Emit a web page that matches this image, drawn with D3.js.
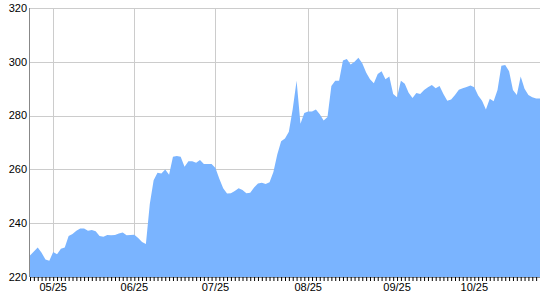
<!DOCTYPE html>
<html>
<head>
<meta charset="utf-8">
<script src="https://cdn.jsdelivr.net/npm/d3@7"></script>
<style>
  body { margin: 0; background: #fff; }
  svg { display: block; font-family: "Liberation Sans", Arial, sans-serif; }
</style>
</head>
<body>
<div id="chart"></div>
<script>
// --------------- Data ---------------
// one value per trading day
const values = [
  228, 229.5, 231, 229, 226.5, 226, 229.3, 228.5, 230.5, 231,
  235.2, 236, 237.2, 238, 238, 237.2, 237.5, 237, 235.2, 235,
  235.6, 235.5, 235.6, 236.2, 236.5, 235.5, 235.6, 235.7, 234.5, 233,
  232.3, 247, 256, 258.8, 258.5, 260, 258, 264.7, 265, 264.7,
  261, 263, 263, 262.5, 263.5, 262, 262, 262, 260.5, 256.5,
  253, 251, 251.1, 252, 253, 252.3, 251.1, 251.3, 253.3, 254.8,
  255, 254.6, 255.2, 259, 265.5, 270.5, 271.5, 274, 282.5, 293,
  277, 281, 281.5, 281.5, 282.3, 280.5, 278.2, 279.5, 291, 293,
  293, 300.5, 301, 299, 300, 301.5, 299.5, 296, 293.5, 292,
  295.5, 296.5, 293.5, 294.5, 288, 286.8, 293, 291.8, 288.5, 286.5,
  288.4, 288, 289.5, 290.5, 291.4, 290.2, 291, 288, 285.5, 286,
  287.7, 289.6, 290.2, 290.6, 291.2, 290.5, 287.5, 285.5, 282.3, 286.3,
  285.3, 289.5, 298.5, 298.8, 296.5, 289.5, 287.7, 294.5, 290, 287.7,
  286.8, 286.4, 286.4
];
// first trading day of each month (index into values)
const monthIndex = [6, 27, 48, 72, 95, 115];
const monthLabels = ["05/25", "06/25", "07/25", "08/25", "09/25", "10/25"];
const yTicks = [220, 240, 260, 280, 300, 320];

const WIDTH = 540;
const HEIGHT = 300;
const margin = { top: 8, right: 0, bottom: 23, left: 30 };
const FILL = "#7ab4ff";
const GRID = "#cccccc";

const svg = d3.select("#chart")
  .append("svg")
  .attr("width", WIDTH)
  .attr("height", HEIGHT);

const x = d3.scaleLinear()
  .domain([0, values.length - 1])
  .range([margin.left, WIDTH - margin.right]);

const y = d3.scaleLinear()
  .domain([220, 320])
  .range([HEIGHT - margin.bottom, margin.top]);

// --------------- Grid ---------------
svg.append("g")
  .selectAll("line")
  .data(yTicks)
  .enter()
  .append("line")
  .attr("x1", margin.left)
  .attr("x2", WIDTH - margin.right)
  .attr("y1", d => Math.round(y(d)) + 0.5)
  .attr("y2", d => Math.round(y(d)) + 0.5)
  .attr("stroke", GRID);

svg.append("g")
  .selectAll("line")
  .data(monthIndex)
  .enter()
  .append("line")
  .attr("x1", d => Math.round(x(d)) + 0.5)
  .attr("x2", d => Math.round(x(d)) + 0.5)
  .attr("y1", margin.top)
  .attr("y2", HEIGHT - margin.bottom)
  .attr("stroke", GRID);

// --------------- Area ---------------
const area = d3.area()
  .x((d, i) => x(i))
  .y0(y(220))
  .y1(d => y(d));

svg.append("path")
  .datum(values)
  .attr("d", area)
  .attr("fill", FILL);

// --------------- Axes ---------------
// y axis: line + labels
svg.append("line")
  .attr("x1", margin.left - 0.5)
  .attr("x2", margin.left - 0.5)
  .attr("y1", margin.top)
  .attr("y2", HEIGHT - margin.bottom)
  .attr("stroke", "#888");

svg.append("g")
  .selectAll("text")
  .data(yTicks)
  .enter()
  .append("text")
  .attr("x", margin.left - 3)
  .attr("y", d => y(d))
  .attr("dy", "0.35em")
  .attr("text-anchor", "end")
  .attr("font-size", 11)
  .attr("fill", "#000")
  .text(d => d);

// x axis: daily ticks + month labels
const xAxis = d3.axisBottom(x)
  .tickValues(d3.range(values.length))
  .tickSize(4)
  .tickFormat("");

const gx = svg.append("g")
  .attr("transform", `translate(0,${HEIGHT - margin.bottom})`)
  .call(xAxis);
gx.select(".domain").attr("stroke", "#888");
gx.selectAll(".tick line").attr("stroke", "#000");

svg.append("g")
  .selectAll("text")
  .data(monthIndex)
  .enter()
  .append("text")
  .attr("x", d => x(d))
  .attr("y", HEIGHT - 9)
  .attr("text-anchor", "middle")
  .attr("font-size", 11)
  .attr("fill", "#000")
  .text((d, i) => monthLabels[i]);
</script>
</body>
</html>
